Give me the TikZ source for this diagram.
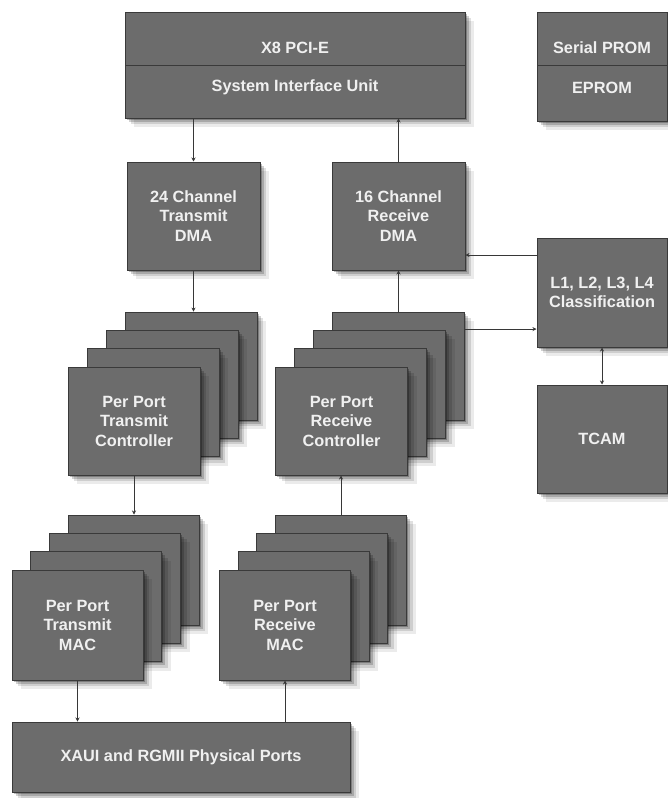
\documentclass[tikz,border=0pt]{standalone}
\usepackage{fontspec}
\setmainfont{Liberation Sans}
\usetikzlibrary{shadows,arrows.meta}
\definecolor{boxfill}{RGB}{108,108,108}
\definecolor{boxline}{RGB}{58,58,58}
\definecolor{wirec}{RGB}{55,55,55}
\definecolor{txt}{RGB}{240,240,240}
\begin{document}
\begin{tikzpicture}[x=1pt,y=-1pt,
 soft/.style={drop shadow={shadow xshift=9pt,shadow yshift=-9pt,opacity=.08,fill=black},
              drop shadow={shadow xshift=6pt,shadow yshift=-6pt,opacity=.12,fill=black},
              drop shadow={shadow xshift=3.5pt,shadow yshift=-3.5pt,opacity=.18,fill=black},
              drop shadow={shadow xshift=1.5pt,shadow yshift=-1.5pt,opacity=.25,fill=black}},
 box/.style={soft, draw=boxline, fill=boxfill, line width=1pt, inner sep=0pt, text=txt,
             align=center, font=\bfseries\fontsize{16.3}{19.5}\selectfont},
 lbl/.style={text=txt, align=center, inner sep=0pt, font=\bfseries\fontsize{16.3}{19.5}\selectfont},
 divider/.style={draw=boxline, line width=1pt},
 wire/.style={draw=wirec, line width=0.9pt},
 tip/.style={-{Stealth[length=4pt,width=4pt]}},
 bitip/.style={{Stealth[length=4pt,width=4pt]}-{Stealth[length=4pt,width=4pt]}},
 ctrl/.style={box, minimum width=132pt, minimum height=108pt},
 mac/.style={box, minimum width=131pt, minimum height=110pt}
]
\fill[white] (0,0) rectangle (668,798);
\useasboundingbox (0,0) rectangle (668,798);

% System interface unit
\node[box, minimum width=340pt, minimum height=106pt] (siu) at (295,65) {};
\draw[divider] (125,65) -- (465,65);
\node[lbl] (pcie) at (295,48) {X8 PCI-E};
\node[lbl] (siut) at (295,87) {System Interface Unit};

% PROM
\node[box, minimum width=130pt, minimum height=109pt] (prom) at (602,66.5) {};
\draw[divider] (537,65) -- (667,65);
\node[lbl] (sprom) at (602,48) {Serial PROM};
\node[lbl] (eprom) at (602,88) {EPROM};

% DMA
\node[box, minimum width=133pt, minimum height=108pt] (txdma) at (193.5,216) {24 Channel\\Transmit\\DMA};
\node[box, minimum width=133pt, minimum height=108pt] (rxdma) at (398.5,216) {16 Channel\\Receive\\DMA};

% Classification / TCAM
\node[box, minimum width=130pt, minimum height=109pt] (class) at (602,292.5) {L1, L2, L3, L4\\Classification};
\node[box, minimum width=130pt, minimum height=108pt] (tcam) at (602,439) {TCAM};

% Transmit controllers
\node[ctrl] (txc3) at (191,366.1) {};
\node[ctrl] (txc2) at (172,384.4) {};
\node[ctrl] (txc1) at (153,402.7) {};
\node[ctrl] (txc) at (134,421) {Per Port\\Transmit\\Controller};

% Receive controllers
\node[ctrl] (rxc3) at (398.5,366.1) {};
\node[ctrl] (rxc2) at (379.5,384.4) {};
\node[ctrl] (rxc1) at (360.5,402.7) {};
\node[ctrl] (rxc) at (341.5,421) {Per Port\\Receive\\Controller};

% Transmit MACs
\node[mac] (txm3) at (133.6,570) {};
\node[mac] (txm2) at (115,588.3) {};
\node[mac] (txm1) at (96.3,606.6) {};
\node[mac] (txm) at (77.5,625) {Per Port\\Transmit\\MAC};

% Receive MACs
\node[mac] (rxm3) at (341,570) {};
\node[mac] (rxm2) at (322.3,588.3) {};
\node[mac] (rxm1) at (303.6,606.6) {};
\node[mac] (rxm) at (285,625) {Per Port\\Receive\\MAC};

% Physical ports
\node[box, minimum width=338pt, minimum height=70pt] (ports) at (181,757) {XAUI and RGMII Physical Ports};

% Connectors
\draw[wire,tip] (siu.south -| txdma.north) -- (txdma.north);
\draw[wire,tip] (rxdma.north) -- (rxdma.north |- siu.south);
\draw[wire,tip] (txdma.south) -- (txdma.south |- txc3.north);
\draw[wire,tip] (rxc3.north) -- (rxc3.north |- rxdma.south);
\draw[wire,tip] ([yshift=37.5pt]class.west) coordinate (c1) -- (c1 -| rxdma.east);
\draw[wire,tip] ([yshift=37pt]rxc3.east) coordinate (c2) -- (c2 -| class.west);
\draw[wire,bitip] (class.south) -- (tcam.north);
\draw[wire,tip] (txc.south) -- (txc.south |- txm3.north);
\draw[wire,tip] (rxm3.north) -- (rxm3.north |- rxc.south);
\draw[wire,tip] (txm.south) -- (txm.south |- ports.north);
\draw[wire,tip] (rxm.south |- ports.north) -- (rxm.south);
\end{tikzpicture}
\end{document}
